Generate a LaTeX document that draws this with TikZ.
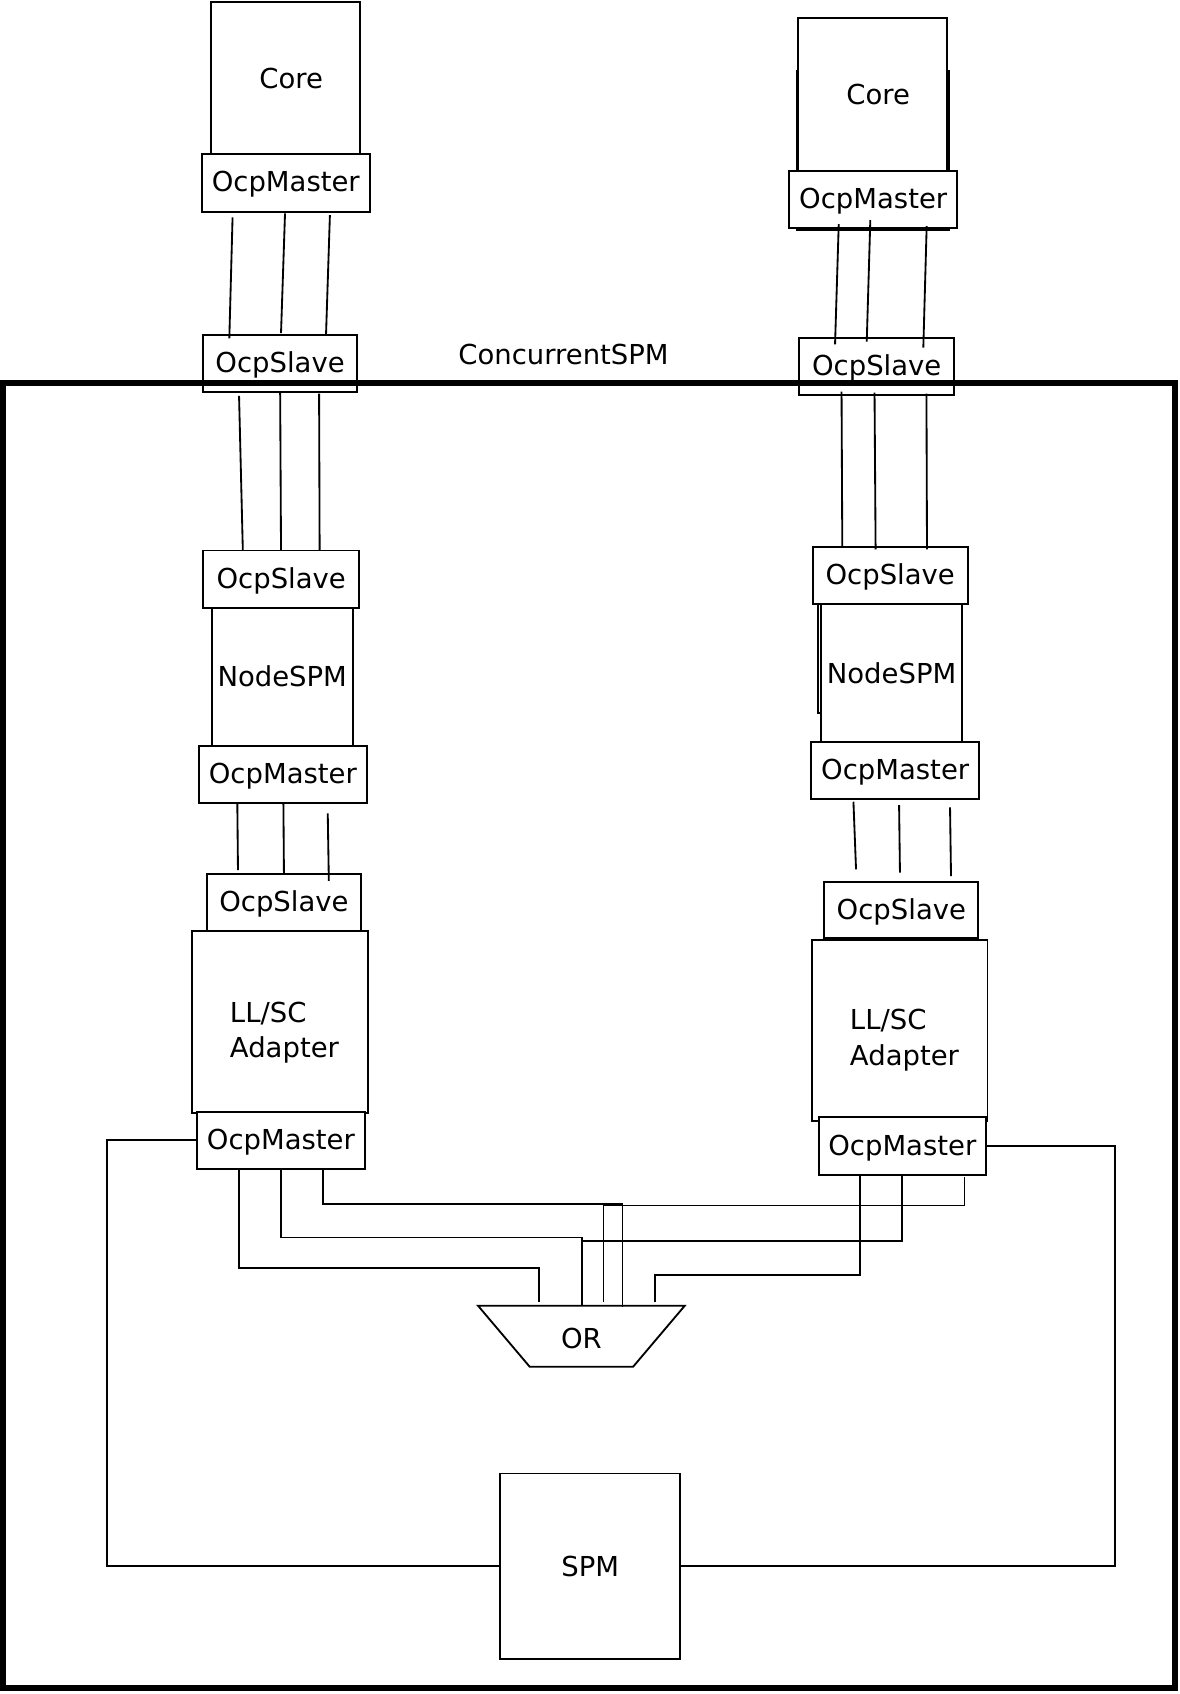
\documentclass[tikz,border=0pt]{standalone}
\usepackage{fontspec}
\setmainfont{DejaVu Sans}
\usetikzlibrary{shapes.geometric}
\begin{document}
\begin{tikzpicture}[x=1pt,y=-1pt,
  every node/.style={font=\fontsize{25.4}{33}\selectfont},
  box/.style={draw, line width=1.7pt, fill=white, inner sep=0pt, outer sep=0pt},
  ocp/.style={box, text depth=2.5pt},
  wire/.style={line width=1.7pt},
  txt/.style={inner sep=0pt, outer sep=0pt}
  ]
\useasboundingbox (0,0) rectangle (1090,1566.1);

% hidden back rectangles (right column)
\node[box, minimum width=141.1pt, minimum height=147.2pt] (back1) at (807.15,139) {};
\node[box, minimum width=123.4pt, minimum height=119.5pt] (back2) at (818.3,599.75) {};

% left column
\node[box, minimum width=137.5pt, minimum height=141pt, label={[xshift=5pt,yshift=-1pt]center:Core}] (core1) at (264.2,72) {};
\node[ocp, minimum width=155.5pt, minimum height=53.2pt] (m1) at (264.2,169.1) {OcpMaster};
\node[ocp, minimum width=143pt, minimum height=53pt] (s1) at (258.9,336.2) {OcpSlave};
\node[ocp, minimum width=144pt, minimum height=52.8pt] (s2) at (260,535.4) {OcpSlave};
\node[box, minimum width=130.3pt, minimum height=127.6pt] (n1) at (260.9,625.6) {NodeSPM};
\node[ocp, minimum width=155pt, minimum height=52.6pt] (m2) at (261.5,715.7) {OcpMaster};
\node[ocp, minimum width=142.7pt, minimum height=52.5pt] (s3) at (262.5,834.3) {OcpSlave};
\node[box, minimum width=162.7pt, minimum height=167.7pt] (a1) at (259.2,944.9) {};
\node[txt, anchor=base west, align=left] (a1t) at (212.6,978) {LL/SC\\Adapter};
\node[ocp, minimum width=155.7pt, minimum height=53pt] (m3) at (259.7,1054.3) {OcpMaster};

% right column
\node[box, minimum width=137.8pt, minimum height=140.8pt, label={[xshift=5pt]center:Core}] (core2) at (806.9,87.4) {};
\node[ocp, minimum width=155.5pt, minimum height=53.3pt] (m4) at (807.3,184.5) {OcpMaster};
\node[ocp, minimum width=143pt, minimum height=53pt] (s4) at (810.5,338.7) {OcpSlave};
\node[ocp, minimum width=143.3pt, minimum height=53pt] (s5) at (823,531.9) {OcpSlave};
\node[box, minimum width=130.9pt, minimum height=127.9pt] (n2) at (824.25,622.35) {NodeSPM};
\node[ocp, minimum width=155.6pt, minimum height=52.7pt] (m5) at (827.6,712.6) {OcpMaster};
\node[ocp, minimum width=142.4pt, minimum height=52.3pt] (s6) at (833.3,841.4) {OcpSlave};
\node[box, minimum width=162pt, minimum height=167pt] (a2) at (832,952.5) {};
\node[txt, anchor=base west, align=left] (a2t) at (785.8,985) {LL/SC\\Adapter};
\node[ocp, minimum width=154pt, minimum height=53.4pt] (m6) at (834.2,1059.7) {OcpMaster};

% OR gate and SPM
\node[txt] (orgate) at (537.5,1237) {OR};
\draw[wire, line join=miter] (orgate.center) ++(-95.5,-29.8) -- ++(191,0) -- ++(-47.75,56.4) -- ++(-95.5,0) -- cycle;
\node[box, minimum width=166.7pt, minimum height=171.6pt] (spm) at (545.65,1448) {SPM};

% short wires between interfaces
\foreach \n/\ax/\ay/\bx/\by in {
  w1/215/201/212/312.8, w2/263.5/197.2/259.8/308, w3/305/198.8/301.4/309.7,
  w4/221/366/224.5/509, w5/259/363/259.8/509, w6/295/364/295.5/509,
  w7/219.4/742.5/220/804.4, w8/262/742/262.5/808, w9/303/752/304/814.3,
  w10/775.4/207.1/772/318.3, w11/804.6/203.4/801.3/315.9, w12/856.7/209/853.6/321.4,
  w13/778/362/778.7/506, w14/808.5/363/809.5/508, w15/856.5/364/857/508,
  w16/789/741.2/791.4/803.7, w17/831.2/744.3/832/806.8, w18/878.3/746.4/879.2/810}{
  \coordinate (\n a) at (\ax,\ay);
  \coordinate (\n b) at (\bx,\by);
  \draw[wire] (\n a) -- (\n b);
}

% wires to the OR gate
\coordinate (pA) at (221,1080.8);   \coordinate (kA) at (498.6,1172.6); \coordinate (eA) at (498.6,1204);
\coordinate (pB) at (259.8,1080.8); \coordinate (kB) at (537.8,1144);   \coordinate (eB) at (537.8,1207.2);
\coordinate (pC) at (298.4,1080.8); \coordinate (kC) at (575.5,1112.9); \coordinate (eC) at (575.5,1208);
\coordinate (pD) at (795,1086.4);   \coordinate (kD) at (605.5,1179);   \coordinate (eD) at (605.5,1203.5);
\coordinate (pE) at (834.2,1086.4); \coordinate (kE) at (537.8,1147);
\coordinate (pF) at (891.7,1088.5); \coordinate (kF) at (558,1114.4);   \coordinate (eF) at (558,1204);
\draw[wire] (pA) |- (kA) -- (eA);
\draw[wire] (pB) |- (kB) -- (eB);
\draw[wire] (pC) |- (kC) -- (eC);
\draw[wire] (pD) |- (kD) -- (eD);
\draw[wire] (pE) |- (kE);
\draw[wire] (pF) |- (kF) -- (eF);

% SPM to the adapters
\coordinate (cL) at (99.3,1250);
\coordinate (cR) at (1031,1250);
\draw[wire] (spm.west) -| (cL) |- (m3.west);
\draw[wire] (spm.east) -| (cR) |- (m6.east);

% outer frame and title
\node[draw, line width=5.5pt, inner sep=0pt, minimum width=1083.2pt, minimum height=1206.4pt] (frame) at (544.3,957.6) {};
\node[txt] (title) at (521,328) {ConcurrentSPM};
\end{tikzpicture}
\end{document}
